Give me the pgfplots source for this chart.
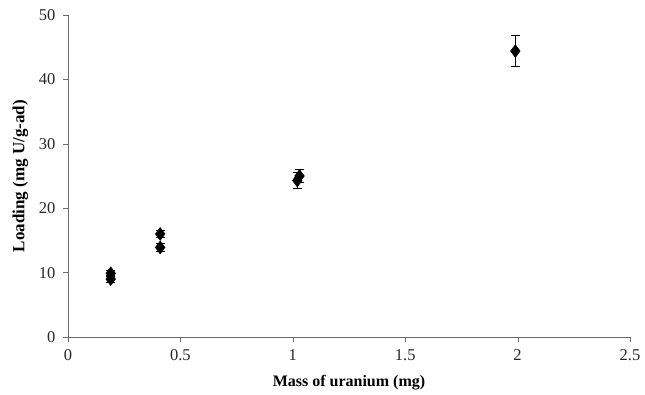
\documentclass[border=0pt]{standalone}
\usepackage{fontspec}
\setmainfont{Liberation Serif}
\usepackage{pgfplots}
\pgfplotsset{compat=1.18}
\begin{document}
\begin{tikzpicture}[x=1pt,y=1pt]
\useasboundingbox (0,0) rectangle (645,395);
\begin{axis}[
  at={(68pt,58pt)}, anchor=origin,
  scale only axis, width=562pt, height=322pt,
  xmin=0, xmax=2.5, ymin=0, ymax=50,
  xtick={0,0.5,...,2.5}, ytick={0,10,...,50},
  xticklabels={0,0.5,1,1.5,2,2.5},
  axis x line=bottom, axis y line=left,
  axis line style={draw=gray!85!black, -},
  tick style={draw=gray!85!black, major tick length=5pt},
  tick align=outside,
  x tick label style={yshift=-4pt},
  y tick label style={xshift=-4pt},
  /pgf/number format/assume math mode=true,
  ticklabel style={font=\fontsize{16.5}{18}\selectfont, text=black!85},
  xlabel={\textbf{Mass of uranium (mg)}},
  ylabel={\textbf{Loading (mg U/g-ad)}},
  xlabel style={font=\fontsize{16}{18}\selectfont, yshift=-8pt},
  ylabel style={font=\fontsize{17}{19}\selectfont, yshift=4pt},
  clip=false,
]
\addplot[only marks, mark=diamond*, mark size=6.5pt, black,
  error bars/.cd, y dir=both, y explicit,
  error mark options={rotate=90, mark size=4.5pt, line width=0.8pt},
  error bar style={line width=0.8pt}]
  table[x=x, y=y, y error=e] {
x y e
0.19 9.0 0.5
0.19 9.9 0.5
0.41 13.9 0.6
0.41 16.0 0.6
1.02 24.3 1.3
1.03 25.0 1.0
1.99 44.4 2.4
};
\end{axis}
\end{tikzpicture}
\end{document}
